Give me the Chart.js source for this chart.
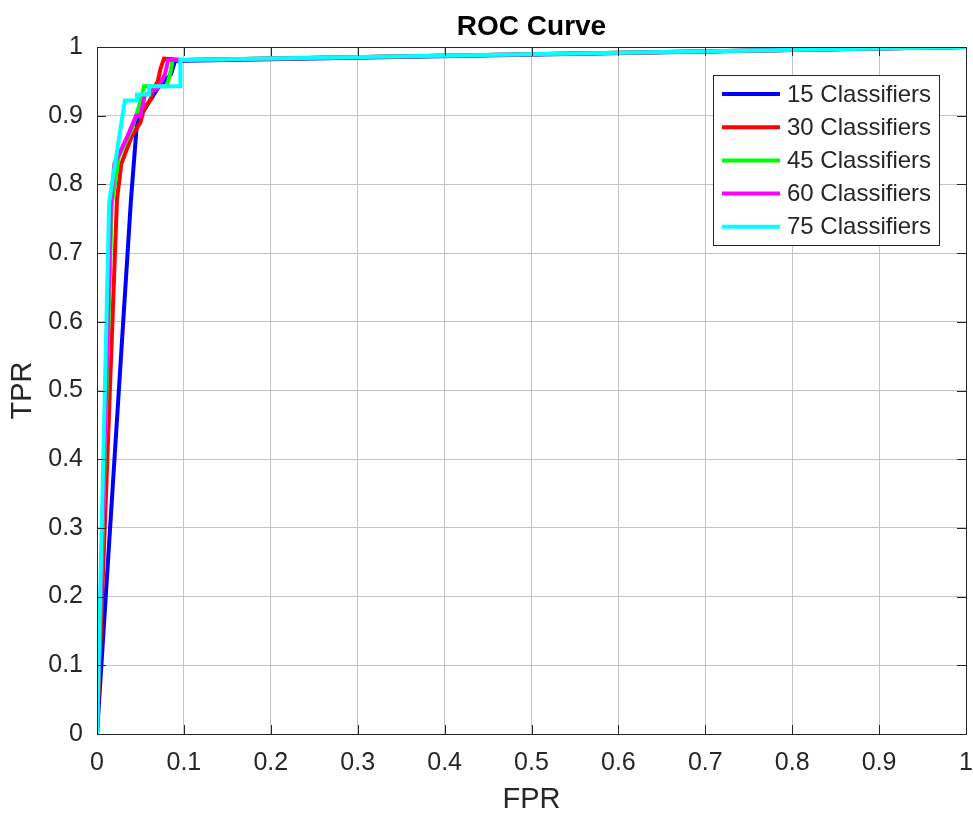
<!DOCTYPE html>
<html>
<head>
<meta charset="utf-8">
<script src="https://cdn.jsdelivr.net/npm/chart.js@4.4.0/dist/chart.umd.min.js"></script>
<style>
  html, body { margin: 0; padding: 0; background: #fff; }
  #wrap { width: 973px; height: 814px; }
</style>
</head>
<body>
<div id="wrap"><canvas id="roc" width="973" height="814"></canvas></div>
<script>
// Data
const seriesLabels = ["15 Classifiers", "30 Classifiers", "45 Classifiers", "60 Classifiers", "75 Classifiers"];
const seriesColors = ["#0000ff", "#ff0000", "#00ff00", "#ff00ff", "#00ffff"];

const fpr15 = [0, 0.039, 0.046, 0.055, 0.07, 0.085, 0.09, 0.1, 1];
const tpr15 = [0, 0.776, 0.89, 0.91, 0.94, 0.96, 0.98, 0.98, 1];

const fpr30 = [0, 0.023, 0.028, 0.04, 0.05, 0.054, 0.062, 0.065, 0.07, 0.073, 0.077, 0.1, 1];
const tpr30 = [0, 0.778, 0.83, 0.87, 0.89, 0.91, 0.924, 0.94, 0.95, 0.968, 0.983, 0.981, 1];

const fpr45 = [0, 0.017, 0.025, 0.04, 0.05, 0.054, 0.08, 0.084, 0.087, 0.1, 1];
const tpr45 = [0, 0.77, 0.84, 0.88, 0.92, 0.943, 0.943, 0.96, 0.981, 0.981, 1];

const fpr60 = [0, 0.016, 0.02, 0.035, 0.045, 0.05, 0.055, 0.07, 0.078, 0.082, 0.1, 1];
const tpr60 = [0, 0.77, 0.83, 0.87, 0.9, 0.9, 0.93, 0.94, 0.96, 0.981, 0.981, 1];

const fpr75 = [0, 0.014, 0.032, 0.046, 0.046, 0.06, 0.06, 0.096, 0.096, 1];
const tpr75 = [0, 0.774, 0.922, 0.922, 0.931, 0.931, 0.943, 0.943, 0.981, 1];

const axisTicks = [0, 0.1, 0.2, 0.3, 0.4, 0.5, 0.6, 0.7, 0.8, 0.9, 1];

const FONT = "'Liberation Sans', Arial, Helvetica, sans-serif";
const INK = "#262626";

function toPoints(xs, ys) {
    return xs.map((x, i) => ({ x: x, y: ys[i] }));
}

const allX = [fpr15, fpr30, fpr45, fpr60, fpr75];
const allY = [tpr15, tpr30, tpr45, tpr60, tpr75];

// later series drawn on top (as in MATLAB plot order)
const datasets = seriesLabels.map((lbl, i) => ({
    label: lbl,
    data: toPoints(allX[i], allY[i]),
    borderColor: seriesColors[i],
    backgroundColor: seriesColors[i],
    borderWidth: 4,
    pointRadius: 0,
    showLine: true,
    tension: 0,
    order: seriesLabels.length - i
}));

// Plugin: title, inward ticks, box, legend
const matlabLook = {
    id: "matlabLook",
    afterDraw(chart) {
        const ctx = chart.ctx;
        const a = chart.chartArea;
        const xs = chart.scales.x, ys = chart.scales.y;
        ctx.save();

        // inward tick marks
        ctx.strokeStyle = INK;
        ctx.lineWidth = 1;
        axisTicks.forEach(t => {
            const px = Math.round(xs.getPixelForValue(t)) + 0.5;
            ctx.beginPath();
            ctx.moveTo(px, a.bottom); ctx.lineTo(px, a.bottom - 9);
            ctx.moveTo(px, a.top); ctx.lineTo(px, a.top + 9);
            ctx.stroke();
            const py = Math.round(ys.getPixelForValue(t)) + 0.5;
            ctx.beginPath();
            ctx.moveTo(a.left, py); ctx.lineTo(a.left + 9, py);
            ctx.moveTo(a.right, py); ctx.lineTo(a.right - 9, py);
            ctx.stroke();
        });

        // box
        ctx.strokeRect(Math.round(a.left) + 0.5, Math.round(a.top) + 0.5,
            Math.round(a.right - a.left), Math.round(a.bottom - a.top));

        // title
        ctx.fillStyle = "#000";
        ctx.font = "bold 28px " + FONT;
        ctx.textAlign = "center";
        ctx.textBaseline = "middle";
        ctx.fillText("ROC Curve", (a.left + a.right) / 2, 27);

        // legend
        const lx = 713, ly = 75, lw = 226, lh = 170;
        ctx.fillStyle = "#fff";
        ctx.fillRect(lx, ly, lw, lh);
        ctx.strokeStyle = INK;
        ctx.lineWidth = 1;
        ctx.strokeRect(lx + 0.5, ly + 0.5, lw, lh);
        ctx.font = "24px " + FONT;
        ctx.textAlign = "left";
        seriesLabels.forEach((lbl, i) => {
            const y = ly + 19 + i * 33.2;
            ctx.strokeStyle = seriesColors[i];
            ctx.lineWidth = 4;
            ctx.beginPath();
            ctx.moveTo(lx + 9, y); ctx.lineTo(lx + 67, y);
            ctx.stroke();
            ctx.fillStyle = INK;
            ctx.fillText(lbl, lx + 74, y + 1);
        });
        ctx.restore();
    }
};

const tickLabel = v => String(Math.round(v * 10) / 10);

new Chart(document.getElementById("roc"), {
    type: "scatter",
    data: { datasets: datasets },
    options: {
        responsive: false,
        animation: false,
        layout: { padding: { top: 47, right: 0, left: 0, bottom: 0 } },
        plugins: {
            legend: { display: false },
            title: { display: false },
            tooltip: { enabled: false }
        },
        scales: {
            x: {
                type: "linear",
                min: 0, max: 1,
                afterBuildTicks: s => { s.ticks = axisTicks.map(v => ({ value: v })); },
                afterFit: s => { s.height = 80; s.paddingRight = 7; s.paddingLeft = 0; },
                grid: { color: "#c4c4c4", drawTicks: false, lineWidth: 1 },
                border: { display: false },
                ticks: { color: INK, font: { family: FONT, size: 25 }, padding: 14, maxRotation: 0, callback: tickLabel },
                title: { display: true, text: "FPR", color: INK, font: { family: FONT, size: 29, lineHeight: 1 }, padding: { top: 0, bottom: 0 } }
            },
            y: {
                type: "linear",
                min: 0, max: 1,
                afterBuildTicks: s => { s.ticks = axisTicks.map(v => ({ value: v })); },
                afterFit: s => { s.width = 97; },
                grid: { color: "#c4c4c4", drawTicks: false, lineWidth: 1 },
                border: { display: false },
                ticks: { color: INK, font: { family: FONT, size: 25 }, padding: 14, callback: tickLabel },
                title: { display: true, text: "TPR", color: INK, font: { family: FONT, size: 29, lineHeight: 1 }, padding: { top: 8, bottom: 0 } }
            }
        }
    },
    plugins: [matlabLook]
});
</script>
</body>
</html>
